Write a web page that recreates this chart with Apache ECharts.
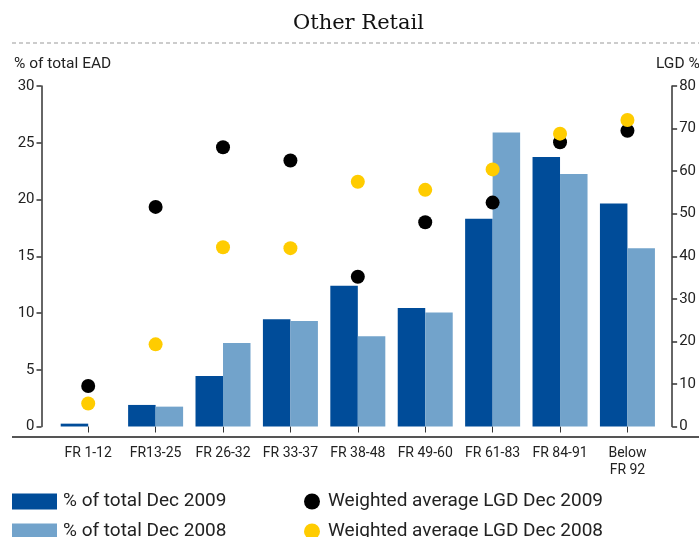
<!DOCTYPE html>
<html><head><meta charset="utf-8">
<script src="https://cdn.jsdelivr.net/npm/echarts@6/dist/echarts.min.js"></script>
<style>html,body{margin:0;padding:0;background:#fff}#c{width:699px;height:537px}</style>
</head><body><div id="c"></div>
<script>
var categories = ['FR 1-12','FR13-25','FR 26-32','FR 33-37','FR 38-48','FR 49-60','FR 61-83','FR 84-91','Below\nFR 92'];
var total2009 = [0.25, 1.9, 4.45, 9.45, 12.4, 10.45, 18.3, 23.75, 19.65];
var total2008 = [0, 1.75, 7.35, 9.3, 7.95, 10.05, 25.9, 22.25, 15.7];
var lgd2009 = [9.5, 51.6, 65.6, 62.5, 35.2, 48.0, 52.6, 66.8, 69.5];
var lgd2008 = [5.4, 19.3, 42.1, 41.9, 57.5, 55.6, 60.4, 68.8, 72.0];
var leftTicks = {min: 0, max: 30, interval: 5};
var rightTicks = {min: 0, max: 80, interval: 10};

var FONT = 'Roboto';
var TXT = '#222';
var AX = '#333';
var chart = echarts.init(document.getElementById('c'));
chart.setOption({
  animation: false,
  textStyle: {fontFamily: FONT},
  grid: {left: 54.5, right: 37.5, top: 86, bottom: 110.5},
  xAxis: {
    type: 'category', data: categories, offset: 10,
    axisLine: {show: false},
    axisTick: {show: true, alignWithLabel: true, interval: 0, length: 6, lineStyle: {color: AX, width: 1}},
    axisLabel: {color: TXT, fontSize: 14, fontFamily: FONT, margin: 8, lineHeight: 17, interval: 0}
  },
  yAxis: [{
    type: 'value', min: leftTicks.min, max: leftTicks.max, interval: leftTicks.interval,
    position: 'left', offset: 13,
    axisLine: {show: true, lineStyle: {color: AX, width: 1.5}},
    axisTick: {show: true, length: 5, lineStyle: {color: AX, width: 1.5}},
    splitLine: {show: false},
    axisLabel: {color: TXT, fontSize: 15, fontFamily: FONT, margin: 7}
  }, {
    type: 'value', min: rightTicks.min, max: rightTicks.max, interval: rightTicks.interval,
    position: 'right', offset: 11,
    axisLine: {show: true, lineStyle: {color: AX, width: 1.5}},
    axisTick: {show: true, length: 5, lineStyle: {color: AX, width: 1.5}},
    splitLine: {show: false},
    axisLabel: {color: TXT, fontSize: 15, fontFamily: FONT, margin: 7}
  }],
  legend: [{
    left: 12, top: 492, height: 60, orient: 'vertical', itemWidth: 45, itemHeight: 16, itemGap: 11,
    itemStyle: {borderWidth: 0},
    textStyle: {color: TXT, fontSize: 19, lineHeight: 16, fontFamily: FONT, padding: [0, 0, 0, 1]},
    data: ['% of total Dec 2009', '% of total Dec 2008'], icon: 'rect', padding: 0
  }, {
    left: 304, top: 492, height: 60, orient: 'vertical', itemWidth: 16, itemHeight: 16, itemGap: 11,
    itemStyle: {opacity: 1},
    textStyle: {color: TXT, fontSize: 19, lineHeight: 16, fontFamily: FONT, padding: [0, 0, 0, 3]},
    data: ['Weighted average LGD Dec 2009', 'Weighted average LGD Dec 2008'], icon: 'circle', padding: 0
  }],
  graphic: [
    {type: 'text', left: 293, top: 13, style: {text: 'Other Retail', font: '21px "DejaVu Serif"', fill: '#111'}},
    {type: 'line', shape: {x1: 12, y1: 43, x2: 699, y2: 43}, style: {stroke: '#999', lineWidth: 1, lineDash: [4, 3]}},
    {type: 'text', left: 14, top: 56, style: {text: '% of total EAD', font: '15.5px Roboto', fill: TXT}},
    {type: 'text', left: 656, top: 56, style: {text: 'LGD %', font: '15.5px Roboto', fill: TXT}},
    {type: 'line', shape: {x1: 12, y1: 437, x2: 699, y2: 437}, style: {stroke: '#555', lineWidth: 2}}
  ],
  series: [
    {name: '% of total Dec 2009', type: 'bar', data: total2009, barWidth: 27.5, barGap: '0%', itemStyle: {color: '#004C99'}},
    {name: '% of total Dec 2008', type: 'bar', data: total2008, barWidth: 27.5, barGap: '0%', itemStyle: {color: '#72A3CB'}},
    {name: 'Weighted average LGD Dec 2009', type: 'scatter', yAxisIndex: 1, data: lgd2009, symbolSize: 14, itemStyle: {color: '#000', opacity: 1}},
    {name: 'Weighted average LGD Dec 2008', type: 'scatter', yAxisIndex: 1, data: lgd2008, symbolSize: 14, itemStyle: {color: '#FFCC00', opacity: 1}}
  ]
});
</script></body></html>
